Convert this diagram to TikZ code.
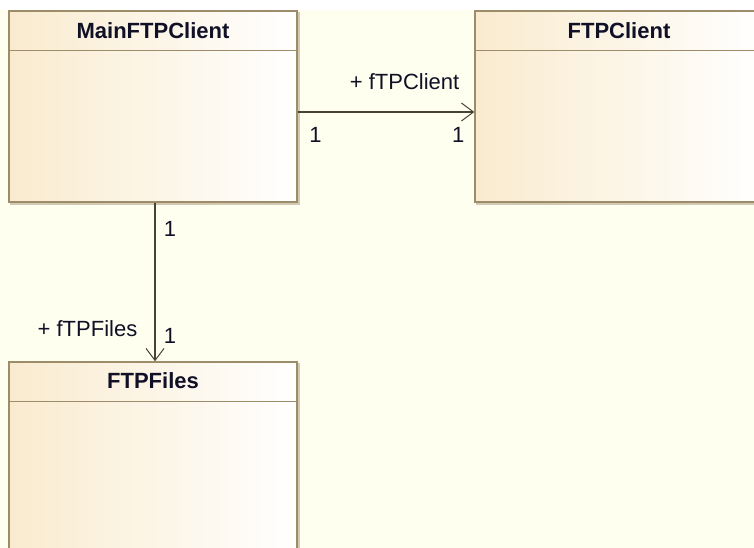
\documentclass[tikz,border=0pt]{standalone}
\usepackage{fontspec}
\setmainfont{Liberation Sans}
\usetikzlibrary{arrows.meta}

\definecolor{canvas}{RGB}{255,255,240}
\definecolor{boxleft}{RGB}{249,235,207}
\definecolor{boxline}{RGB}{156,140,105}
\definecolor{boxshadow}{RGB}{210,201,178}
\definecolor{linec}{RGB}{72,66,52}
\definecolor{inkc}{RGB}{16,16,38}

\begin{document}
\begin{tikzpicture}[x=1pt,y=-1pt,
  classbox/.style={rectangle, draw=boxline, line width=1.5pt,
    left color=boxleft, right color=white,
    minimum width=288pt, minimum height=191pt, inner sep=0pt,
    preaction={draw=boxshadow, line width=2pt,
      transform canvas={xshift=2pt,yshift=-2pt}}},
  divider/.style={draw=boxline, line width=1.4pt},
  classname/.style={anchor=base, inner sep=0pt, text=inkc,
    font=\fontsize{22}{26}\selectfont\bfseries},
  endlabel/.style={inner sep=0pt, text=inkc,
    font=\fontsize{22}{26}\selectfont},
  assoc/.style={draw=linec, line width=1.1pt,
    -{Straight Barb[length=12pt,width=18pt,line width=1pt]}}]

  % page and canvas
  \useasboundingbox (0,0) rectangle (754,548);
  \clip (0,0) rectangle (754,548);
  \fill[white] (0,0) rectangle (754,10);
  \fill[canvas] (0,10) rectangle (754,548);

  % classes
  \node[classbox] (main)   at (153,106.5) {};
  \node[classbox] (client) at (619,106.5) {};
  \node[classbox] (files)  at (153,457.5) {};

  % header separators
  \draw[divider] ([yshift=-40pt]main.north west) -- ([yshift=-40pt]main.north east);
  \draw[divider] ([yshift=-40pt]client.north west) -- ([yshift=-40pt]client.north east);
  \draw[divider] ([yshift=-40pt]files.north west) -- ([yshift=-40pt]files.north east);

  % class names
  \node[classname] (mainname)   at (153,38.3)  {MainFTPClient};
  \node[classname] (clientname) at (619,38.3)  {FTPClient};
  \node[classname] (filesname)  at (153,388.8) {FTPFiles};

  % associations
  \draw[assoc] ([yshift=-5.5pt]main.east) -- ([yshift=-5.5pt]client.west);
  \draw[assoc] ([xshift=2pt]main.south) -- ([xshift=2pt]files.north);

  % role names and multiplicities
  \node[endlabel, anchor=base east] (roleclient) at (459.5,89.3) {+ fTPClient};
  \node[endlabel, anchor=base] (multmainc)   at (315.5,143)   {1};
  \node[endlabel, anchor=base] (multclient)  at (458.3,142.5) {1};
  \node[endlabel, anchor=base east] (rolefiles) at (137.5,336.7) {+ fTPFiles};
  \node[endlabel, anchor=base] (multmainf)   at (170,236.5)   {1};
  \node[endlabel, anchor=base] (multfiles)   at (170,343)     {1};
\end{tikzpicture}
\end{document}
